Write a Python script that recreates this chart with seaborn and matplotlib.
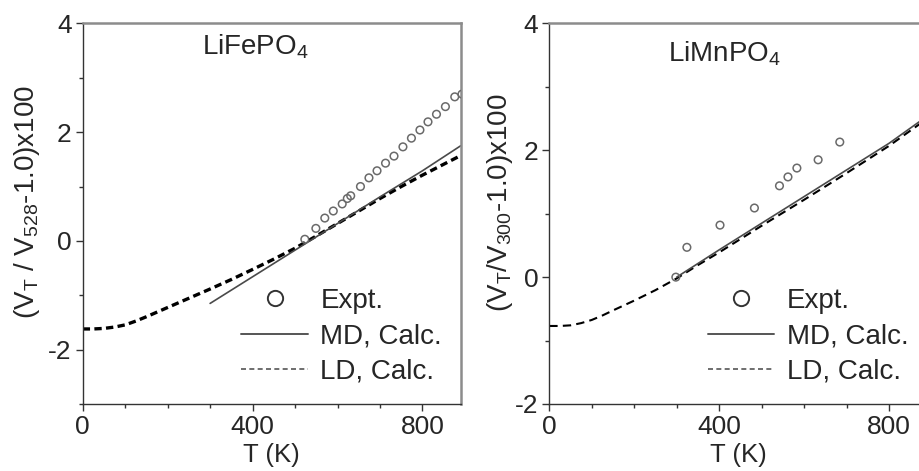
import matplotlib
matplotlib.use("Agg")
import matplotlib.pyplot as plt
from matplotlib.lines import Line2D
from matplotlib.ticker import MultipleLocator
import seaborn as sns

# LiFePO4: lattice-dynamics (LD), molecular-dynamics (MD) and experiment
fe_T_ld = [0, 25, 50, 75, 100, 125, 150, 175, 200, 250, 300, 350, 400, 450, 500, 550, 600,
           650, 700, 750, 800, 850, 890]
fe_ld = [-1.62, -1.62, -1.61, -1.585, -1.545, -1.475, -1.395, -1.31, -1.225, -1.055, -0.885,
         -0.71, -0.525, -0.335, -0.135, 0.09, 0.32, 0.55, 0.78, 1.00, 1.21, 1.41, 1.57]
fe_T_md = [300, 400, 500, 600, 700, 800, 890]
fe_md = [-1.15, -0.66, -0.17, 0.32, 0.81, 1.29, 1.75]
fe_T_exp = [523, 549, 570, 590, 611, 623, 631, 654, 674, 693, 713, 733, 754, 774, 794, 813, 833, 854, 876, 893]
fe_exp = [0.03, 0.23, 0.42, 0.55, 0.68, 0.78, 0.83, 1.00, 1.16, 1.29, 1.43, 1.56, 1.73, 1.89,
          2.04, 2.19, 2.33, 2.47, 2.65, 2.70]

# LiMnPO4
mn_T_ld = [0, 25, 50, 75, 100, 125, 150, 200, 250, 300, 350, 400, 450, 500, 600, 700, 800, 890]
mn_ld = [-0.77, -0.77, -0.76, -0.725, -0.675, -0.605, -0.525, -0.37, -0.205, -0.02, 0.19, 0.39,
         0.60, 0.81, 1.22, 1.64, 2.07, 2.50]
mn_T_md = [300, 400, 500, 600, 700, 800, 890]
mn_md = [0.0, 0.43, 0.85, 1.27, 1.69, 2.11, 2.54]
mn_T_exp = [298, 324, 402, 483, 542, 562, 583, 633, 684]
mn_exp = [0.0, 0.47, 0.82, 1.09, 1.44, 1.58, 1.72, 1.85, 2.13]

legend_labels = ["Expt.", "MD, Calc.", "LD, Calc."]

sns.set_theme(style="ticks")
plt.rcParams["font.family"] = ["Liberation Sans", "DejaVu Sans"]
plt.rcParams["mathtext.fontset"] = "custom"
plt.rcParams["mathtext.rm"] = "Liberation Sans"
plt.rcParams["axes.unicode_minus"] = False

FS = 19
fig = plt.figure(figsize=(9.19, 4.71), dpi=100)
ax1 = fig.add_axes([0.090, 0.1423, 0.4113, 0.8079])
ax2 = fig.add_axes([0.5977, 0.1423, 0.4113, 0.8079])

panels = [
    (ax1, fe_T_ld, fe_ld, fe_T_md, fe_md, fe_T_exp, fe_exp, (-3, 4),
     r"LiFePO$_\mathregular{4}$", r"(V$_\mathregular{T}$ / V$_\mathregular{528}$-1.0)x100",
     (0.316, 0.918), -0.108, 2.4, (0, (2.2, 1.3))),
    (ax2, mn_T_ld, mn_ld, mn_T_md, mn_md, mn_T_exp, mn_exp, (-2, 4),
     r"LiMnPO$_\mathregular{4}$", r"(V$_\mathregular{T}$/V$_\mathregular{300}$-1.0)x100",
     (0.314, 0.900), -0.092, 1.5, (0, (4, 2.5))),
]

for (ax, tl, yl, tm, ym, te, ye, ylim, name, ylabel, tpos, ylx, ldlw, ldls) in panels:
    sns.lineplot(x=tl, y=yl, ax=ax, color="black", lw=ldlw, linestyle=ldls)
    sns.lineplot(x=tm, y=ym, ax=ax, color="#4a4a4a", lw=1.2)
    sns.scatterplot(x=te, y=ye, ax=ax, s=30, marker="o", facecolor="none",
                    edgecolor="#6a6a6a", linewidth=1.1, zorder=3)
    ax.set_xlim(0, 890)
    ax.set_ylim(*ylim)
    ax.xaxis.set_major_locator(MultipleLocator(400))
    ax.xaxis.set_minor_locator(MultipleLocator(100))
    ax.yaxis.set_major_locator(MultipleLocator(2))
    ax.yaxis.set_minor_locator(MultipleLocator(1))
    ax.tick_params(which="major", direction="out", length=5, width=1, color="#333333",
                   labelsize=FS, pad=3, top=False, right=False)
    ax.tick_params(which="minor", direction="out", length=3, width=1, color="#333333",
                   top=False, right=False)
    for side in ("left", "bottom"):
        ax.spines[side].set_color("#333333")
        ax.spines[side].set_linewidth(1.0)
    for side in ("top", "right"):
        ax.spines[side].set_visible(True)
        ax.spines[side].set_color("#8c8c8c")
        ax.spines[side].set_linewidth(1.8)
    ax.set_xlabel("T (K)", fontsize=FS - 0.5, labelpad=3)
    ax.set_ylabel(ylabel, fontsize=FS + 1)
    ax.yaxis.set_label_coords(ylx, 0.53)
    ax.text(tpos[0], tpos[1], name, transform=ax.transAxes, fontsize=FS + 1, ha="left",
            va="baseline")

    handles = [
        Line2D([], [], ls="none", marker="o", markersize=11, markerfacecolor="none",
               markeredgecolor="#333333", markeredgewidth=1.4),
        Line2D([], [], color="#555555", lw=1.4),
        Line2D([], [], color="#555555", lw=1.2, ls=(0, (3, 2))),
    ]
    ax.legend(handles, legend_labels, loc="lower left", bbox_to_anchor=(0.39, 0.021),
              frameon=False, fontsize=FS + 1, handlelength=2.4, handletextpad=0.45,
              labelspacing=0.34, borderaxespad=0)

fig.savefig("out.png", dpi=100)
